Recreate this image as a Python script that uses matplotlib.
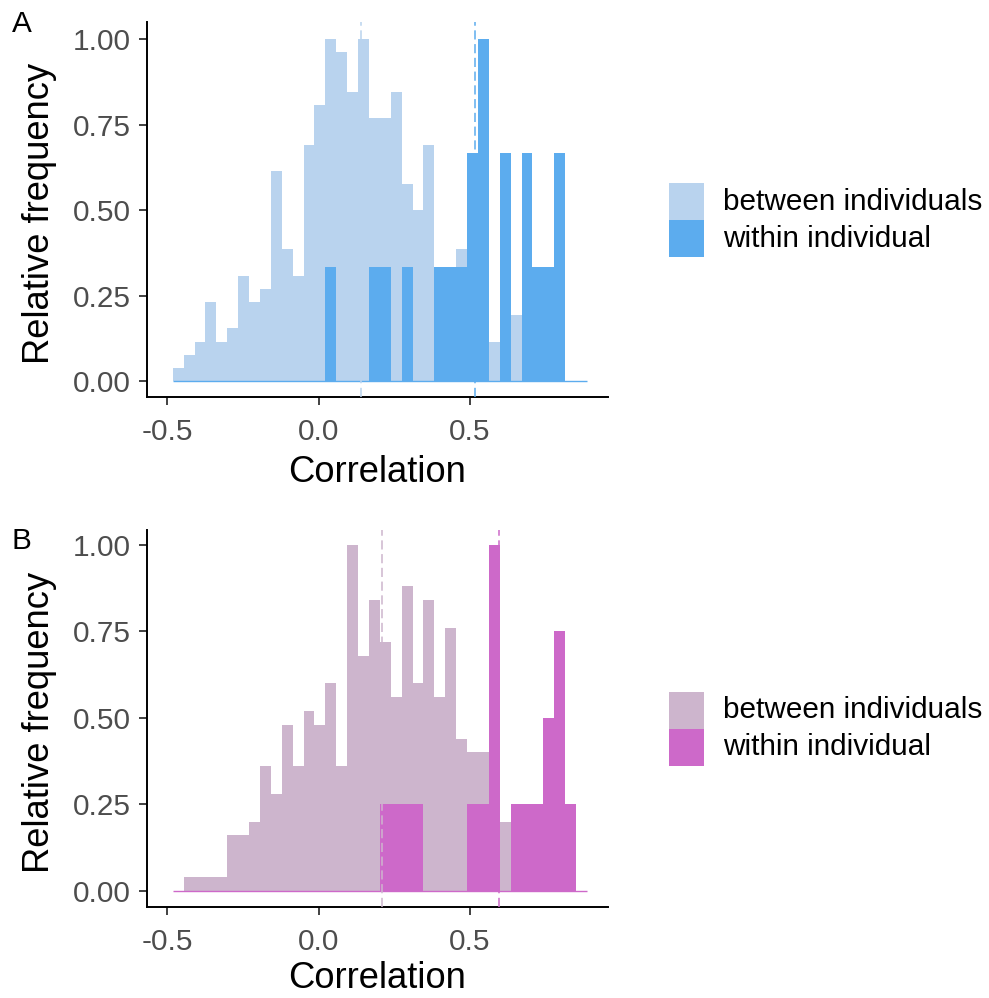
import numpy as np
import matplotlib
matplotlib.use("Agg")
import matplotlib.pyplot as plt
from matplotlib.patches import Rectangle

plt.rcParams['font.family'] = ['Liberation Sans', 'DejaVu Sans']

# ---------------- data ----------------
bin_start = -0.482
bin_width = 0.036

# Panel A (relative frequency per bin)
a_between = [0.038, 0.077, 0.115, 0.231, 0.115, 0.154, 0.308, 0.231, 0.269, 0.615,
             0.385, 0.308, 0.692, 0.808, 1.000, 0.962, 0.846, 1.000, 0.769, 0.769,
             0.846, 0.577, 0.500, 0.692, 0.269, 0.231, 0.385, 0.231, 0.154, 0.115,
             0.115, 0.192, 0.077, 0.038, 0.038, 0.000, 0.000, 0.000]
a_within = [0, 0, 0, 0, 0, 0, 0, 0, 0, 0,
            0, 0, 0, 0, 0.333, 0, 0, 0, 0.333, 0.333,
            0, 0.333, 0, 0, 0.333, 0.333, 0.333, 0.667, 1.000, 0,
            0.667, 0, 0.667, 0.333, 0.333, 0.667, 0, 0]
a_mean_between = 0.139
a_mean_within = 0.515

# Panel B
b_between = [0.00, 0.04, 0.04, 0.04, 0.04, 0.16, 0.16, 0.20, 0.36, 0.28,
             0.48, 0.36, 0.52, 0.48, 0.60, 0.36, 1.00, 0.68, 0.84, 0.72,
             0.56, 0.88, 0.60, 0.84, 0.56, 0.76, 0.44, 0.40, 0.40, 0.24,
             0.20, 0.12, 0.08, 0.08, 0.04, 0.04, 0.00, 0.00]
b_within = [0, 0, 0, 0, 0, 0, 0, 0, 0, 0,
            0, 0, 0, 0, 0, 0, 0, 0, 0, 0.25,
            0.25, 0.25, 0.25, 0, 0, 0, 0, 0.25, 0.25, 1.00,
            0, 0.25, 0.25, 0.25, 0.50, 0.75, 0.25, 0]
b_mean_between = 0.208
b_mean_within = 0.595

labels = ["between individuals", "within individual"]
yticks = [0.0, 0.25, 0.5, 0.75, 1.0]
yticklabels = ["0.00", "0.25", "0.50", "0.75", "1.00"]
xticks = [-0.5, 0.0, 0.5]
xticklabels = ["-0.5", "0.0", "0.5"]

# ---------------- figure ----------------
W, H = 989, 998
fig = plt.figure(figsize=(W / 100, H / 100), dpi=100)

def fx(px):
    return px / W

def fy(py):
    return 1 - py / H

panels = [
    dict(top=21.7, bottom=396.7, between=a_between, within=a_within,
         mb=a_mean_between, mw=a_mean_within, light="#B9D3EE", dark="#5CACEE",
         ylim=(-0.046, 1.0515), tag="A", tagy=24, leg_top=183.3, xlab_y=472.5),
    dict(top=530.0, bottom=906.7, between=b_between, within=b_within,
         mb=b_mean_between, mw=b_mean_within, light="#CDB5CD", dark="#CD69C9",
         ylim=(-0.0463, 1.0434), tag="B", tagy=541, leg_top=691.7, xlab_y=979.0),
]

left_px, right_px = 146.7, 608.0
FS = 21.4
TITLE_FS = 26.2
key_w, key_h = 35.0, 37.0
key_x = 669.3
text_x = 723.0

for p in panels:
    hpx = p["bottom"] - p["top"]
    ax = fig.add_axes([fx(left_px), fy(p["bottom"]), fx(right_px) - fx(left_px),
                       hpx / H])
    n = len(p["between"])
    edges = bin_start + bin_width * np.arange(n + 1)
    ax.bar(edges[:-1], p["between"], width=bin_width, align="edge",
           color=p["light"], linewidth=0, zorder=2)
    ax.bar(edges[:-1], p["within"], width=bin_width, align="edge",
           color=p["dark"], linewidth=0, zorder=3)
    ax.hlines(0, edges[0], edges[-1], color=p["dark"], lw=1.0, zorder=4)
    ax.axvline(p["mb"], color=p["light"], lw=1.1, ls=(0, (6, 3)), zorder=5)
    ax.axvline(p["mw"], color=p["dark"], lw=1.1, ls=(0, (6, 3)), zorder=5)

    ax.set_xlim(-0.5682, 0.9557)
    ax.set_ylim(*p["ylim"])
    ax.set_xticks(xticks)
    ax.set_xticklabels(xticklabels)
    ax.set_yticks(yticks)
    ax.set_yticklabels(yticklabels)
    for s in ["top", "right"]:
        ax.spines[s].set_visible(False)
    for s in ["left", "bottom"]:
        ax.spines[s].set_linewidth(1.4)
        ax.spines[s].set_color("black")
    ax.tick_params(axis="both", length=6, width=1.3, color="#333333",
                   labelsize=FS, labelcolor="#4D4D4D")
    ax.tick_params(axis="x", pad=9.5)
    ax.tick_params(axis="y", pad=5.5)

    ax.set_xlabel("Correlation", fontsize=TITLE_FS)
    ax.xaxis.set_label_coords(0.5, -(p["xlab_y"] - p["bottom"]) / hpx)
    ax.xaxis.label.set_va("center")
    ax.set_ylabel("Relative frequency", fontsize=TITLE_FS)
    ax.yaxis.set_label_coords((40.0 - left_px) / (right_px - left_px), 0.49)
    ax.yaxis.label.set_va("center")

    # legend drawn as figure-level keys + text
    for i, (lab, col) in enumerate(zip(labels, [p["light"], p["dark"]])):
        ytop = p["leg_top"] + i * key_h
        fig.patches.append(Rectangle((fx(key_x), fy(ytop + key_h)), key_w / W, key_h / H,
                                     transform=fig.transFigure, facecolor=col,
                                     edgecolor="none"))
        fig.text(fx(text_x), fy(ytop + key_h / 2), lab, fontsize=FS,
                 ha="left", va="center", color="black")

    fig.text(fx(12), fy(p["tagy"]), p["tag"], fontsize=FS, va="center", ha="left")

fig.savefig("out.png", dpi=100)
